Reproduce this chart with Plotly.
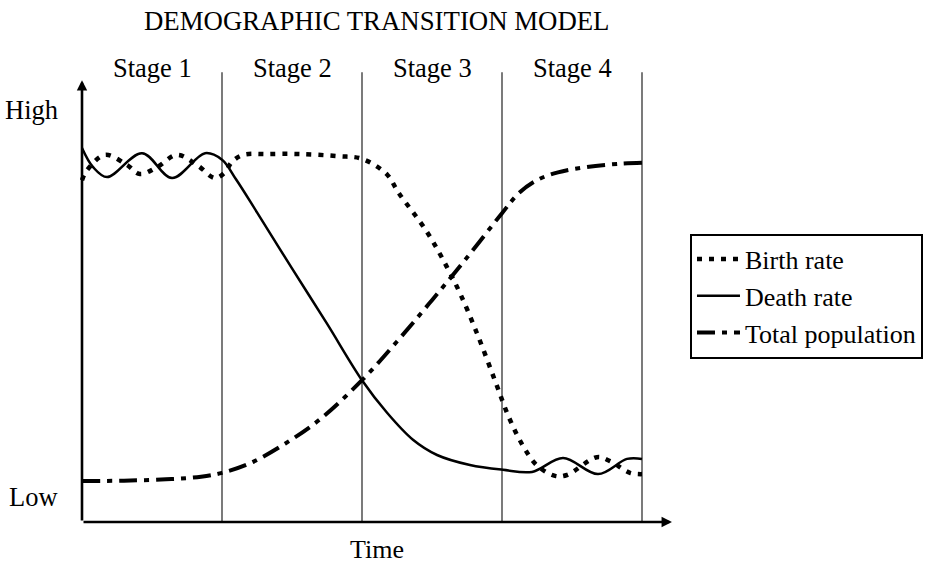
import plotly.graph_objects as go

# ---- data (time in stage units, level 0 = Low axis, ~100 = top) ----
birth_x = [0.0, 0.036, 0.164, 0.321, 0.414, 0.536, 0.679, 0.821, 0.95, 1.021, 1.071, 1.15, 1.321,
           1.557, 1.836, 2.0, 2.179, 2.257, 2.464, 2.607, 2.7, 2.821, 2.95, 3.05, 3.15, 3.25,
           3.379, 3.464, 3.679, 3.771, 3.914, 4.0]
birth_y = [78.6, 80.9, 84.4, 82.1, 80.0, 81.6, 84.4, 82.1, 79.1, 80.4, 82.8, 84.4, 84.6,
           84.6, 84.1, 83.5, 79.9, 75.9, 66.7, 58.6, 52.6, 43.4, 32.5, 24.0, 17.5, 13.0,
           10.6, 10.8, 14.9, 14.0, 11.3, 11.0]

death_x = [0.0, 0.079, 0.179, 0.429, 0.643, 0.879, 1.0, 1.1, 1.25, 1.5, 1.75, 2.0,
           2.179, 2.364, 2.536, 2.771, 3.007, 3.214, 3.436, 3.686, 3.893, 4.0]
death_y = [86.0, 81.6, 79.3, 84.8, 79.1, 84.8, 83.3, 78.8, 71.2, 58.3, 45.6, 32.6,
           25.1, 18.9, 15.4, 13.1, 12.0, 11.5, 14.7, 11.0, 14.5, 14.5]

pop_x = [0.0, 0.3, 0.6, 0.85, 1.0, 1.2, 1.45, 1.7, 2.0, 2.25, 2.5, 2.75, 3.0,
         3.12, 3.25, 3.4, 3.6, 3.85, 4.0]
pop_y = [9.4, 9.5, 9.8, 10.4, 11.3, 13.5, 18.0, 23.6, 32.6, 41.5, 51.0, 60.8, 71.0,
         75.6, 78.6, 80.4, 81.6, 82.4, 82.6]

series_names = ["Birth rate", "Death rate", "Total population"]
stage_labels = ["Stage 1", "Stage 2", "Stage 3", "Stage 4"]
stage_bounds = [1, 2, 3, 4]
level_labels = ["High", "Low"]
title_text = "DEMOGRAPHIC TRANSITION MODEL"
x_title = "Time"

FONT = "Liberation Serif"
FS = 26

fig = go.Figure()
fig.add_trace(go.Scatter(x=birth_x, y=birth_y, mode="lines", name=series_names[0],
                         line=dict(color="black", width=4.5, dash="5px,7px", shape="spline")))
fig.add_trace(go.Scatter(x=death_x, y=death_y, mode="lines", name=series_names[1],
                         line=dict(color="black", width=2.5, shape="spline")))
fig.add_trace(go.Scatter(x=pop_x, y=pop_y, mode="lines", name=series_names[2],
                         line=dict(color="black", width=4, dash="18px,7px,5px,7px", shape="spline")))

# stage boundaries
for b in stage_bounds:
    fig.add_shape(type="line", x0=b, x1=b, y0=0, y1=103.4, xref="x", yref="y",
                  line=dict(color="#333333", width=1.3), layer="below")

ann = []
# axes with arrows
ann.append(dict(x=0, y=101.6, ax=0, ay=0, xref="x", yref="y", axref="x", ayref="y",
                text="", showarrow=True, arrowhead=2, arrowwidth=2.6, arrowsize=0.8,
                arrowcolor="black"))
ann.append(dict(x=4.214, y=0, ax=0, ay=0, xref="x", yref="y", axref="x", ayref="y",
                text="", showarrow=True, arrowhead=2, arrowwidth=2.6, arrowsize=0.8,
                arrowcolor="black"))
# stage labels
for i, s in enumerate(stage_labels):
    ann.append(dict(x=i + 0.5, y=0.985, xref="x", yref="paper", text=s, showarrow=False,
                    font=dict(family=FONT, size=FS + 0.5, color="black"), xanchor="center", yanchor="middle"))
# level labels
for lab, yy in zip(level_labels, [0.8966, 0.0802]):
    ann.append(dict(x=-0.002, y=yy, xref="paper", yref="paper", text=lab, showarrow=False,
                    font=dict(family=FONT, size=FS + 0.5, color="black"), xanchor="right", yanchor="middle"))
# x title
ann.append(dict(x=2.107, y=-0.0316, xref="x", yref="paper", text=x_title, showarrow=False,
                font=dict(family=FONT, size=FS, color="black"), xanchor="center", yanchor="middle"))
# title
ann.append(dict(x=0.5072, y=1.0844, xref="paper", yref="paper", text=title_text, showarrow=False,
                font=dict(family=FONT, size=FS + 0.8, color="black"), xanchor="center", yanchor="middle"))

fig.update_layout(
    width=925, height=568,
    margin=dict(l=61, r=241, t=61, b=33, autoexpand=False),
    paper_bgcolor="white", plot_bgcolor="white",
    xaxis=dict(range=[-0.15, 4.3], visible=False, fixedrange=True),
    yaxis=dict(range=[-3, 106], visible=False, fixedrange=True),
    annotations=ann,
    showlegend=True,
    legend=dict(x=1.0096, y=0.504, xanchor="left", yanchor="middle",
                bordercolor="black", borderwidth=2, bgcolor="white",
                font=dict(family=FONT, size=FS, color="black"),
                itemwidth=43),
)

fig.write_html("out.html", config={"displayModeBar": False},
               post_script="document.body.style.margin='0';document.body.style.overflow='hidden';")
